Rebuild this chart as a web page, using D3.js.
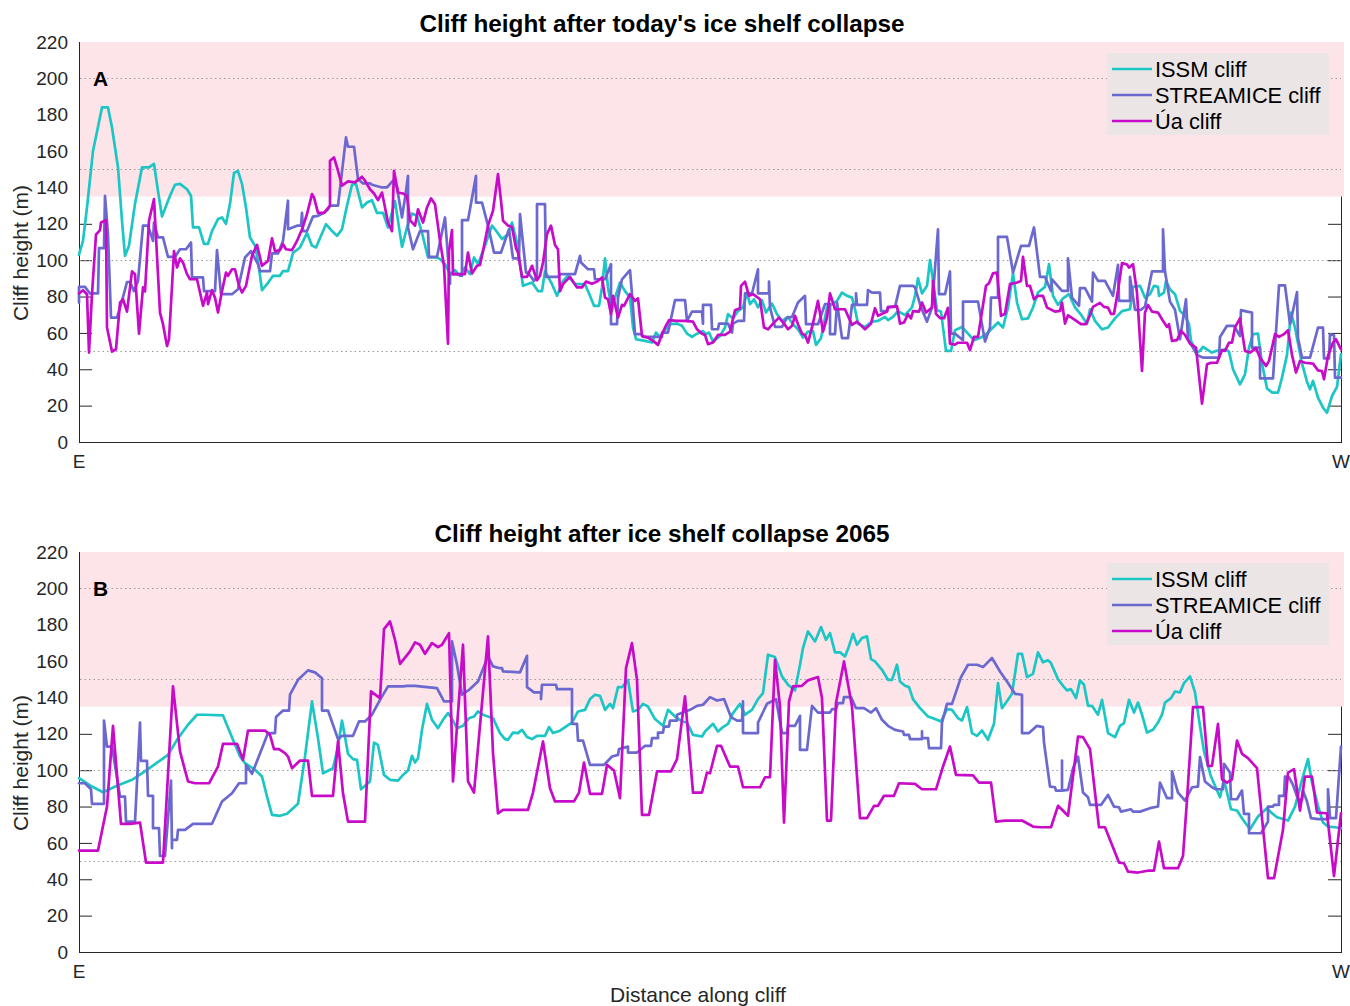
<!DOCTYPE html>
<html>
<head>
<meta charset="utf-8">
<script src="https://cdn.jsdelivr.net/npm/d3@7"></script>
<style>
  html, body { margin: 0; padding: 0; background: #ffffff; }
  svg { display: block; font-family: "Liberation Sans", Arial, sans-serif; }
</style>
</head>
<body>
<svg id="chart" width="1350" height="1006"></svg>
<script>
// ---------------- DATA ----------------
// distance along cliff (E -> W, arbitrary units 0..1262), cliff height (m)
const distanceDomain = [0, 1262];
const yTicks = [0, 20, 40, 60, 80, 100, 120, 140, 160, 180, 200, 220];
const gridValues = [50, 100, 150, 200];
const dangerZone = [135, 220];
const seriesNames = ["ISSM cliff", "STREAMICE cliff", "Úa cliff"];
const seriesColors = ["#1cc6c4", "#6b68cf", "#c70bc9"];
const panelTitles = ["Cliff height after today's ice shelf collapse", "Cliff height after ice shelf collapse 2065"];
const panelLetters = ["A", "B"];
const endLabels = ["E", "W"];

const issmToday = [[0,103],[4,110.6],[8,129],[14,160],[23,184],[29,184],[33,173],[39,151],[43,121.7],[46,102.4],[50,108],[56,131],[63,151],[70,151],[75,153],[79,138],[83,124],[91,135.4],[96,141.5],[101,142],[108,139],[112,135.4],[114,118],[120,118],[125,109],[129,109],[133,116],[139,122.6],[143,123.5],[147,120],[151,131],[155,148],[159,149],[163,142],[167,129],[171,112.5],[176,108],[179,99.6],[183,83.5],[188,86.8],[194,91.4],[201,91.4],[204,94],[209,94],[214,104],[221,107],[228,115],[233,108],[237,107],[242,113.4],[247,119.8],[253,116],[258,113.4],[263,117],[268,130],[273,141.5],[277,142],[283,129],[288,131.7],[293,133],[298,126],[304,126],[309,118],[316,132.5],[323,107.3],[328,118],[333,125.7],[338,124.4],[343,115],[349,101.5],[358,101.5],[361,100.6],[366,97.8],[371,92.3],[376,94.5],[381,91.4],[386,96],[391,92.3],[395,101.5],[399,97.8],[406,108],[413,119],[416,117],[423,111.6],[429,114.3],[433,120.7],[438,109.7],[444,85.9],[453,87.7],[459,83],[463,83],[466,94],[473,86.8],[478,80.4],[484,88.6],[489,91.4],[496,86.8],[506,86.8],[511,80.4],[515,74.9],[520,74.9],[523,85],[526,101],[529,85],[533,72.1],[536,79.4],[541,87.7],[546,83],[551,79.4],[554,63],[557,56.5],[566,55.6],[573,54.7],[577,60.2],[581,57.8],[586,61.5],[591,64.8],[598,65.1],[603,63.9],[608,59.6],[613,57.8],[618,59.6],[624,61],[627,59.3],[630,60.2],[634,55.2],[641,58.3],[646,63],[649,70.3],[654,68],[659,72],[664,74],[668,82.2],[671,75.8],[675,78.5],[679,74],[683,78],[687,71.2],[693,76.1],[698,70.3],[703,66.6],[709,68.8],[714,64.8],[719,62],[724,57.4],[729,60.7],[734,61],[737,53.4],[742,57.1],[748,74],[753,75.8],[758,77.6],[763,82.2],[768,80.4],[773,79.4],[776,73],[779,65.1],[786,63.3],[793,66.2],[799,66.6],[806,68.8],[809,67],[814,68.8],[819,72],[826,69.8],[833,74],[836,80.4],[839,90],[843,81.7],[848,85.9],[851,100],[854,88.6],[858,72.5],[862,71.7],[867,50.1],[872,50.1],[876,61.5],[883,63.3],[889,59.6],[895,56],[903,57.8],[909,60.2],[919,65.7],[924,63],[929,74],[934,92.7],[938,76.7],[943,67.5],[949,68],[954,74],[959,82.2],[966,85.3],[970,97.8],[974,80.4],[979,75.4],[984,79],[990,81.3],[996,74],[1002,70],[1008,65.1],[1011,73],[1016,66.6],[1023,62],[1029,63],[1036,68],[1043,72],[1051,73],[1054,85.3],[1061,85.9],[1066,79.4],[1071,81.3],[1075,85.9],[1079,85.3],[1080,80.4],[1085,82.2],[1087,88.6],[1091,84],[1096,81.3],[1101,72.1],[1106,69.4],[1110,64.8],[1112,55.6],[1118,49.2],[1121,50.1],[1124,52.3],[1129,50.5],[1133,49.2],[1137,50.1],[1143,50.5],[1146,51],[1150,49.7],[1154,40],[1161,31.7],[1166,37.2],[1170,51.9],[1174,59.3],[1179,59.6],[1183,43.1],[1188,29.5],[1193,27.2],[1199,27.2],[1203,35.4],[1208,47.9],[1212,71.2],[1216,62.9],[1223,43.1],[1228,33.2],[1231,29],[1234,33.6],[1239,24.4],[1244,18.9],[1248,16.1],[1253,25.3],[1258,30.3],[1262,48.3]];

const streamiceToday = [[0,76.7],[0,85.3],[6,85.3],[11,81.7],[19,81.7],[20,106.6],[25,106.6],[26,135.4],[29,114],[32,68.4],[38,68.4],[43,77.6],[48,88],[51,88],[55,83],[59,88.6],[64,119],[69,119],[74,110.6],[75,120.7],[79,112.5],[84,112.5],[89,101.8],[96,101.8],[101,106],[107,106],[112,109.7],[113,90.5],[124,90.5],[125,83],[136,83],[138,105.5],[142,81.3],[153,81.3],[159,84],[166,101.5],[172,105],[179,97.8],[181,94],[191,94],[193,103.7],[199,103.7],[204,110.6],[209,132.7],[209,117],[218,119],[222,119],[223,126],[224,116],[228,116],[234,124],[239,124.4],[245,126],[249,128],[251,130],[259,130],[267,167.5],[269,162.4],[275,162.4],[279,144.6],[284,142.2],[291,142.2],[293,141.5],[303,140],[308,140],[314,143.7],[318,140],[323,123.5],[327,138],[329,146.4],[329,118],[334,106],[341,116],[349,116],[350,101.8],[358,101.8],[366,123.5],[371,87],[371,92.3],[378,92.3],[383,91.4],[383,122],[389,122],[397,146.4],[397,131.7],[403,131.7],[409,119],[415,104.2],[422,104.2],[430,117],[434,101],[440,101],[441,125.3],[447,93.2],[449,93.2],[455,88.6],[458,90.8],[458,130.8],[466,130.8],[467,90.8],[479,90.8],[481,92.3],[496,92.3],[501,102.4],[502,98.7],[509,95],[515,95],[516,89.5],[526,89.5],[532,97.8],[532,64.8],[538,64.8],[539,79.4],[543,89.5],[551,94.5],[553,81.3],[556,59.3],[563,59.3],[564,57.8],[583,57.8],[583,60.2],[589,60.2],[596,78],[606,78],[608,66.6],[613,71.7],[623,71.7],[624,65.1],[624,75.4],[632,75.4],[633,62],[639,62],[640,65.1],[649,65.1],[653,60.2],[654,65.1],[659,66.6],[665,66.6],[666,81.7],[673,81.7],[679,95],[679,81.7],[690,81.7],[690,88.2],[691,74],[696,63.3],[703,63.3],[708,68.4],[713,68.8],[719,76.7],[726,80.4],[727,64.8],[739,64.8],[746,75.8],[751,75.8],[751,59.3],[756,59.3],[758,76.7],[763,57.1],[769,57.1],[773,75.4],[777,75.4],[777,81.7],[778,75.4],[788,75.4],[789,83.5],[793,82.2],[801,82.2],[802,72],[808,72],[809,74.3],[816,74.3],[821,85.9],[834,85.9],[836,85],[842,74],[848,66.2],[853,74],[859,117],[860,81.3],[866,81.3],[871,93.8],[872,59.6],[876,59.6],[884,56],[884,77.2],[899,77.2],[906,55.2],[911,63],[912,79.4],[919,79.4],[919,112.8],[928,112.8],[934,93.2],[942,107.9],[950,107.9],[955,118],[961,90.8],[966,90.8],[972,83.1],[973,89.5],[983,83.1],[989,83.1],[989,101],[993,79.4],[1000,74.9],[1001,84.6],[1006,84.6],[1013,77.2],[1014,93.2],[1019,88.6],[1026,88.6],[1034,80.4],[1039,97.4],[1040,77.6],[1051,77.6],[1051,90.8],[1056,72.7],[1062,72.7],[1066,74.5],[1073,93.8],[1084,93.8],[1084,117],[1086,93.8],[1091,77.2],[1096,72.7],[1101,56.5],[1107,78.5],[1109,56.5],[1113,52.8],[1118,47.9],[1124,46.4],[1140,46.4],[1141,57.8],[1148,63.9],[1155,63.9],[1161,58.3],[1162,72.5],[1168,71.7],[1173,71.2],[1173,51.9],[1181,51.9],[1181,35],[1194,35],[1200,86.1],[1206,86.1],[1211,64.8],[1218,82.4],[1219,57.2],[1223,46.4],[1231,46.4],[1239,62.9],[1244,62.9],[1245,46],[1250,46],[1251,59.3],[1255,58.7],[1256,35.4],[1262,35.4]];

const uaToday = [[0,81.7],[4,83.5],[8,81.3],[10,49.2],[13,81.3],[17,114],[21,116.5],[22,120.7],[27,122],[28,63],[33,49.7],[37,51],[41,76.7],[44,78.5],[48,71.7],[53,93.8],[56,92.3],[60,59.6],[64,85],[66,82.8],[70,121.7],[75,133.6],[81,71.2],[84,64.8],[88,52.8],[90,56.5],[95,105],[98,96],[101,101],[104,98.7],[108,92.3],[111,89.5],[118,89.5],[121,82.2],[124,74.9],[128,82.2],[129,75.8],[133,83.5],[136,79.4],[139,71.2],[143,83],[147,93.2],[149,91.4],[153,95],[156,95],[160,85.9],[163,82.2],[167,85.9],[169,91.4],[173,102.4],[178,108.4],[183,96.9],[189,99.6],[193,112],[196,105],[201,105.5],[204,108.8],[207,106],[213,105.5],[218,110.6],[223,117],[228,125.3],[233,136.3],[235,134.5],[239,126],[245,126],[251,130],[251,154.7],[255,156.5],[259,149.2],[263,141],[269,143.3],[276,142.8],[280,144.6],[283,145.9],[286,143.7],[291,139],[295,136.7],[299,133],[303,137.2],[306,129],[309,120.7],[313,116],[315,149.2],[319,137.2],[324,136.7],[328,135.4],[331,122],[336,119],[339,128],[344,120.7],[348,129],[352,134],[356,130.7],[361,110.6],[365,96.9],[369,54.1],[370,105],[373,116.5],[374,92.3],[386,92.3],[389,104.2],[393,92.7],[398,96.9],[401,97.4],[404,105],[409,119],[414,127.2],[419,147.3],[422,132.7],[424,121.7],[429,119],[433,118.3],[437,106.6],[439,104.2],[443,90.8],[448,90.8],[453,96.9],[458,89],[461,91.4],[464,98.7],[468,114.3],[472,119],[476,108.4],[479,106],[481,83],[484,86.8],[491,90.8],[498,85],[503,85],[507,88.2],[513,87],[518,88.2],[523,90.5],[526,79.4],[529,78.5],[532,70.3],[534,80.4],[539,68.4],[543,75.4],[545,74.9],[551,81.3],[556,77.6],[559,79],[563,58.3],[569,57.4],[574,55.6],[579,53.4],[583,59.3],[586,63],[590,67],[598,66.6],[606,66.6],[614,66.2],[618,62],[623,59.6],[626,58.9],[629,53.8],[634,54.7],[639,58.9],[646,58.9],[651,60.7],[656,72.5],[661,73.6],[662,85.9],[666,88.2],[670,80.4],[674,81.3],[681,78.5],[685,63],[689,62],[694,65.1],[700,68.4],[705,65.1],[709,62],[713,63.9],[716,69.4],[719,64.8],[723,59.6],[726,58.9],[729,54.7],[733,63],[739,77.6],[744,60.7],[748,68.4],[751,81.7],[756,73],[766,73],[773,64.4],[778,66.2],[786,62],[792,65.1],[796,73.6],[799,69.4],[808,71.7],[809,74],[818,74.7],[821,65.1],[825,65.7],[829,70.3],[832,68],[834,72],[840,71.7],[843,76.7],[847,71.2],[853,74],[854,88.6],[857,70.5],[861,68.1],[865,68.1],[869,73.8],[871,54.1],[876,53.5],[879,54.6],[888,54.6],[891,50.5],[895,57.8],[899,57.8],[903,71.7],[907,85.9],[910,87.3],[914,92.8],[918,93.2],[922,69.4],[926,70.5],[931,86.8],[938,87.7],[942,88.6],[944,101.8],[948,85.9],[951,85.9],[955,78.5],[959,80.4],[964,80.4],[968,74],[976,71.7],[981,72.1],[983,76.7],[986,65.1],[989,69.7],[994,67.9],[1002,64.8],[1007,64.8],[1011,69.7],[1014,74.3],[1021,76.5],[1025,74.3],[1029,73.9],[1032,70.5],[1035,70.5],[1039,83.3],[1043,98.4],[1048,97.6],[1050,95.9],[1054,97.8],[1058,82.2],[1063,39.1],[1066,71.2],[1069,75.4],[1073,71.7],[1079,71.2],[1083,67.5],[1088,63.3],[1090,64.8],[1093,55.6],[1098,56],[1102,61.1],[1106,58.9],[1111,54.1],[1117,51.9],[1123,21.1],[1128,42.7],[1132,43.6],[1138,43.6],[1143,50.5],[1146,50.1],[1150,54.7],[1153,54.7],[1156,63],[1161,68],[1166,50.1],[1171,49.2],[1177,51.6],[1181,46.4],[1187,41.8],[1190,44.6],[1193,51.9],[1196,59.3],[1200,57.8],[1205,59.3],[1209,61.5],[1213,47.9],[1217,38.2],[1221,44.6],[1226,43.6],[1234,43.1],[1239,39.4],[1243,39],[1245,34.5],[1249,47.4],[1254,54.7],[1257,56.5],[1262,51]];

const issm2065 = [[0,95.6],[13,91],[24,87.9],[38,91.4],[53,94.7],[68,100.2],[81,105.3],[89,108.4],[98,116.7],[109,125],[118,130.5],[126,130.5],[144,130.1],[154,116.7],[161,107.5],[166,103.9],[176,100.2],[183,96.5],[188,85.5],[193,75.4],[201,74.9],[208,76],[213,78.5],[219,81.5],[226,107.5],[233,137.8],[239,117.6],[244,98.3],[254,101.1],[259,113],[263,127.3],[269,109],[274,106.1],[278,105.7],[282,89.5],[291,93.8],[295,115.2],[299,113.9],[305,97.4],[311,94.7],[319,94.3],[324,97.4],[329,99.8],[333,107.9],[336,104.2],[339,106.6],[343,122.2],[348,136.5],[353,127.7],[359,123.1],[364,127.7],[369,131.4],[372,129.2],[378,123.1],[384,124.4],[390,128.6],[395,129.5],[399,132.3],[404,130.5],[414,128.6],[421,120.4],[426,117.1],[429,116.7],[434,120.7],[439,120.4],[443,122.2],[448,118.2],[453,117.1],[458,118.9],[466,118.9],[470,123.7],[474,120.4],[481,121.7],[488,124.4],[493,126.2],[499,132.3],[506,133.2],[511,139.1],[516,141.5],[521,140.9],[526,133.2],[531,136.5],[534,134.1],[539,145.7],[543,145.7],[549,149.7],[554,132.3],[559,133.2],[564,136.5],[569,135],[576,128.1],[584,124.4],[589,133.2],[596,129.5],[603,126.8],[608,126.2],[614,119.4],[623,118.5],[626,121.3],[634,125.5],[639,121.3],[644,123.7],[649,125.5],[654,131.4],[661,136.5],[666,130.5],[673,133.2],[679,139.1],[684,142.4],[689,163.5],[696,162.2],[703,151.6],[709,147],[716,143.9],[721,158],[724,167.2],[729,176.3],[736,170.8],[742,178.7],[747,171.7],[751,175.4],[756,164.8],[761,164.8],[766,162.6],[769,166.6],[774,175],[778,169],[783,172.7],[788,173.6],[792,161.1],[796,159.8],[803,155.2],[809,149.7],[813,149.7],[818,158],[821,148.8],[826,146.4],[830,145.7],[834,139.1],[841,134.1],[849,129.5],[854,128.6],[862,126.8],[868,133.6],[873,133.2],[879,128.6],[883,127.3],[888,134.7],[893,120.4],[898,118.9],[903,121.8],[909,116.7],[915,125.5],[919,147.9],[923,134.1],[929,138.7],[933,142],[939,164],[943,164],[948,151.2],[954,153],[959,164.8],[964,159.3],[969,160.4],[972,158.9],[979,150.1],[984,146.4],[988,143.9],[992,144.6],[997,139.6],[1001,149.4],[1005,147],[1009,135.4],[1013,135.4],[1019,130.5],[1023,138.7],[1029,120.4],[1036,118.2],[1041,124.4],[1045,125.9],[1050,138.7],[1055,131.7],[1059,137.2],[1063,130.5],[1068,120.7],[1074,122.2],[1079,126.2],[1083,130.5],[1086,137.2],[1092,139.6],[1096,143.3],[1101,142.8],[1105,147.9],[1111,151.6],[1116,142.8],[1120,127.7],[1125,110.3],[1132,96.5],[1141,85.1],[1145,94.7],[1152,78.5],[1158,77.8],[1164,72.7],[1171,67.5],[1179,74.5],[1188,79.1],[1193,76.3],[1198,74.1],[1209,72.3],[1216,80],[1223,94.7],[1229,106.1],[1233,93.2],[1239,80.4],[1244,71.2],[1249,69],[1256,68.6],[1262,68.1]];

const streamice2065 = [[0,92.8],[6,92.8],[12,89.5],[13,81.5],[25,81.5],[25,127.3],[28,113],[33,113],[41,85.5],[46,85.5],[47,71.7],[56,71.7],[61,126.2],[62,105.1],[68,105.1],[69,85.9],[74,85.9],[74,68.1],[80,68.1],[81,52.8],[86,52.8],[92,94.3],[93,57.1],[93,61.7],[98,61.7],[99,67.2],[106,67.2],[114,70.5],[133,70.5],[143,82.8],[153,87.3],[160,92.8],[167,92.8],[167,102.9],[173,98],[189,120.4],[196,120.4],[197,129.2],[204,132.8],[210,132.8],[211,141.5],[219,149.7],[229,154.9],[236,153.8],[243,150.6],[243,132.8],[249,132.8],[259,117.1],[263,118.9],[274,118.9],[280,126.8],[286,126.8],[293,130.5],[301,138.7],[309,146.1],[324,146.1],[328,146.4],[336,146.4],[348,145.7],[358,145.1],[365,137.8],[373,137.8],[373,170.8],[378,158],[383,141.5],[391,144.6],[399,148.8],[404,155.6],[409,162.6],[414,157.1],[421,156.1],[423,156.1],[424,154.3],[441,153.8],[448,162.9],[448,145.7],[455,142.8],[462,142.8],[462,139.1],[463,147],[477,147],[478,144.6],[493,144.6],[493,125.5],[498,125.5],[499,116.3],[504,116.3],[511,102.9],[525,102.9],[533,107.5],[539,108.4],[540,111.6],[549,113],[549,109.7],[558,109.7],[566,113.4],[572,113.4],[573,117.6],[579,117.6],[579,120.7],[584,120.7],[585,124],[590,124],[591,127.3],[598,127.3],[598,130.5],[611,133.2],[618,135.4],[624,136],[631,140.2],[638,138.3],[645,139.1],[652,129.2],[658,127.3],[663,127.3],[664,137.8],[664,120.4],[679,120.4],[679,126.2],[688,136.5],[697,139.1],[703,120.4],[708,120.4],[709,124.4],[716,124.4],[721,129.9],[721,111.2],[728,111.2],[733,135.4],[739,131.7],[751,131.7],[753,133.6],[757,133.6],[759,136.9],[764,136.9],[765,140.2],[772,140.2],[777,134.1],[785,134.1],[792,131.7],[797,134.1],[803,127.7],[809,124.4],[816,122.2],[824,121.3],[825,119.4],[830,119.4],[831,117.1],[843,117.1],[843,121.3],[843,117.6],[849,117.6],[850,112.1],[862,112.1],[863,126.2],[868,136.5],[873,136.5],[882,151.2],[889,158],[898,158],[904,156.7],[913,161.7],[921,154.3],[928,148.8],[936,142],[943,141.5],[943,120.4],[950,120.4],[958,124.4],[964,123.7],[965,115.2],[971,91],[976,90.6],[977,88.8],[983,88.8],[983,105.3],[983,88.8],[989,89.2],[994,101.1],[999,107.5],[1004,87.7],[1009,85.1],[1011,80.9],[1022,80.9],[1029,86.4],[1035,80],[1040,79.6],[1042,77.2],[1052,78.5],[1054,77.2],[1061,77.2],[1071,79.1],[1079,80],[1081,93.2],[1088,84.6],[1093,84.6],[1093,99.3],[1099,87.7],[1106,83.3],[1113,90.6],[1119,91],[1121,107.2],[1126,93.8],[1133,90.6],[1137,89.5],[1144,89.5],[1145,103.5],[1151,98.7],[1152,84],[1158,84],[1163,88.8],[1165,76],[1170,76],[1170,65.3],[1182,65.3],[1189,71.7],[1189,80],[1194,80],[1195,80.9],[1200,80.9],[1200,85.9],[1205,85.9],[1206,96.5],[1210,96.1],[1214,91.9],[1219,84],[1223,83.7],[1224,88.8],[1228,82.8],[1232,73.6],[1239,73.1],[1249,73.1],[1249,89.5],[1251,73.6],[1257,73.6],[1262,113]];

const ua2065 = [[0,55.8],[19,55.8],[28,80],[34,124.4],[42,70.5],[51,70.5],[61,71.2],[67,49.2],[84,49.2],[94,146.1],[101,110.3],[109,93.8],[116,92.8],[130,92.8],[139,102],[144,114.5],[158,114.5],[164,105.7],[169,121.8],[186,121.8],[191,119.4],[195,111.6],[200,111.6],[206,109.4],[209,107.5],[213,101.1],[221,105.3],[229,105.3],[233,85.9],[254,85.9],[259,115.8],[264,87.3],[269,71.7],[286,71.7],[292,143.3],[301,139.6],[305,177.6],[311,181.8],[316,171.7],[321,158.5],[331,165.3],[336,170.3],[341,169],[346,164],[353,169.9],[359,167.7],[363,169],[370,175.4],[374,93.8],[384,169],[389,93.8],[395,87.7],[409,173.6],[414,109.4],[419,76.3],[424,78.2],[449,78.2],[454,87.7],[464,115.8],[471,90.1],[476,82.8],[495,82.8],[500,87.7],[505,104.2],[511,87],[523,87],[528,102.9],[535,99.8],[541,84.6],[547,156.1],[553,169.9],[558,149.7],[563,75.4],[570,75.4],[578,99.3],[592,99.3],[598,106.1],[606,140.6],[614,87.7],[623,87.7],[628,98.7],[631,98.3],[638,113.4],[642,113.4],[651,102],[659,102],[664,90.6],[681,90.6],[686,96.1],[691,96.1],[696,160.7],[701,135],[705,71.2],[710,137.8],[714,146.1],[723,146.4],[729,149.4],[739,151.2],[743,139.6],[748,72.3],[752,72.3],[757,136.9],[765,159.8],[773,135],[781,73.6],[788,73.6],[795,80.4],[799,80.4],[805,85.9],[815,85.9],[820,92.8],[836,92.5],[843,89.5],[857,89.5],[864,102],[871,113],[877,97.4],[894,97.1],[900,93.2],[912,93.2],[917,71.7],[926,72.3],[943,72.3],[954,69],[961,68.6],[972,68.6],[979,80.4],[989,74.9],[999,118.5],[1004,118.2],[1011,111.6],[1020,68.6],[1026,68.6],[1040,49.2],[1045,48.8],[1049,44.2],[1059,43.7],[1070,44.8],[1075,44.8],[1080,60.7],[1085,46.1],[1099,46.1],[1104,52.8],[1108,83.7],[1114,134.7],[1124,134.7],[1129,102.4],[1133,102.4],[1139,125.5],[1143,95],[1148,93.2],[1153,95],[1158,116.3],[1163,109],[1169,106.6],[1178,101.1],[1189,40.6],[1195,40.6],[1204,67.2],[1209,98.7],[1215,100.6],[1221,77.8],[1226,96.5],[1233,96.5],[1238,76.7],[1248,76.3],[1255,41.8],[1262,76.3]];

const panelSeries = [
  [issmToday, streamiceToday, uaToday],
  [issm2065, streamice2065, ua2065]
];

// ---------------- LAYOUT ----------------
const svg = d3.select("#chart");
const plotLeft = 79, plotRight = 1341;
const panelTops = [42, 552];
const plotHeight = 400;

const x = d3.scaleLinear().domain(distanceDomain).range([plotLeft, plotRight]);

panelTops.forEach((top, pi) => {
  const bottom = top + plotHeight;
  const y = d3.scaleLinear().domain([0, 220]).range([bottom, top]);
  const g = svg.append("g");

  // right axis (ticks inward), drawn before the shaded band
  const rightAxis = g.append("g")
    .attr("transform", `translate(${plotRight},0)`)
    .call(d3.axisRight(y).tickValues(yTicks).tickSize(-13).tickFormat(""));
  rightAxis.selectAll("line").attr("stroke", "#262626");
  rightAxis.select(".domain").attr("stroke", "#262626");

  // left axis
  const leftAxis = g.append("g")
    .attr("transform", `translate(${plotLeft},0)`)
    .call(d3.axisLeft(y).tickValues(yTicks).tickSize(-13).tickPadding(11).tickSizeOuter(0));
  leftAxis.selectAll("line").attr("stroke", "#262626");
  leftAxis.select(".domain").remove();
  leftAxis.selectAll("text")
    .attr("font-size", 19).attr("fill", "#262626")
    .attr("font-family", "'Liberation Sans', Arial, sans-serif");

  // shaded band (covers ticks inside it)
  g.append("rect")
    .attr("x", plotLeft + 1)
    .attr("y", y(dangerZone[1]))
    .attr("width", plotRight - plotLeft + 2)
    .attr("height", y(dangerZone[0]) - y(dangerZone[1]))
    .attr("fill", "#fde4e8");

  // dotted grid
  g.selectAll(".grid").data(gridValues).enter().append("line")
    .attr("x1", plotLeft + 1).attr("x2", plotRight)
    .attr("y1", d => Math.round(y(d)) + 0.5).attr("y2", d => Math.round(y(d)) + 0.5)
    .attr("stroke", "#9a9a9a").attr("stroke-width", 1)
    .attr("stroke-dasharray", "1.5,3");

  // spines
  g.append("line").attr("x1", plotLeft + 0.5).attr("x2", plotLeft + 0.5)
    .attr("y1", top).attr("y2", bottom).attr("stroke", "#262626");
  g.append("line").attr("x1", plotLeft).attr("x2", plotRight + 1)
    .attr("y1", bottom + 0.5).attr("y2", bottom + 0.5).attr("stroke", "#262626");

  // series lines
  const line = d3.line().x(d => x(d[0])).y(d => y(d[1]));
  panelSeries[pi].forEach((data, si) => {
    g.append("path").datum(data)
      .attr("d", line)
      .attr("fill", "none")
      .attr("stroke", seriesColors[si])
      .attr("stroke-width", 2.7)
      .attr("stroke-linejoin", "round")
      .attr("stroke-linecap", "round");
  });

  // title
  g.append("text")
    .attr("x", 662).attr("y", top - 10)
    .attr("text-anchor", "middle")
    .attr("font-size", 24.3).attr("font-weight", "bold").attr("fill", "#000")
    .text(panelTitles[pi]);

  // panel letter
  g.append("text")
    .attr("x", 93).attr("y", y(200) + 8)
    .attr("font-size", 21).attr("font-weight", "bold").attr("fill", "#000")
    .text(panelLetters[pi]);

  // E / W labels
  g.append("text").attr("x", x(distanceDomain[0])).attr("y", bottom + 26)
    .attr("text-anchor", "middle").attr("font-size", 19).attr("fill", "#262626")
    .text(endLabels[0]);
  g.append("text").attr("x", x(distanceDomain[1])).attr("y", bottom + 26)
    .attr("text-anchor", "middle").attr("font-size", 19).attr("fill", "#262626")
    .text(endLabels[1]);

  // y-axis label
  g.append("text")
    .attr("transform", `translate(28,${(top + bottom) / 2 + 11}) rotate(-90)`)
    .attr("text-anchor", "middle").attr("font-size", 21).attr("fill", "#262626")
    .text("Cliff height (m)");

  // legend
  const lg = g.append("g").attr("transform", `translate(1107,${top + 11})`);
  lg.append("rect").attr("width", 222).attr("height", 82).attr("fill", "#ebe5e6");
  seriesNames.forEach((name, si) => {
    const ly = 16 + si * 26;
    lg.append("line").attr("x1", 5).attr("x2", 45).attr("y1", ly).attr("y2", ly)
      .attr("stroke", seriesColors[si]).attr("stroke-width", 2.7);
    lg.append("text").attr("x", 48).attr("y", ly).attr("dy", "0.36em")
      .attr("font-size", 21.8).attr("fill", "#000").text(name);
  });
});

// x-axis label
svg.append("text")
  .attr("x", 698).attr("y", 1002)
  .attr("text-anchor", "middle").attr("font-size", 21).attr("fill", "#262626")
  .text("Distance along cliff");
</script>
</body>
</html>
